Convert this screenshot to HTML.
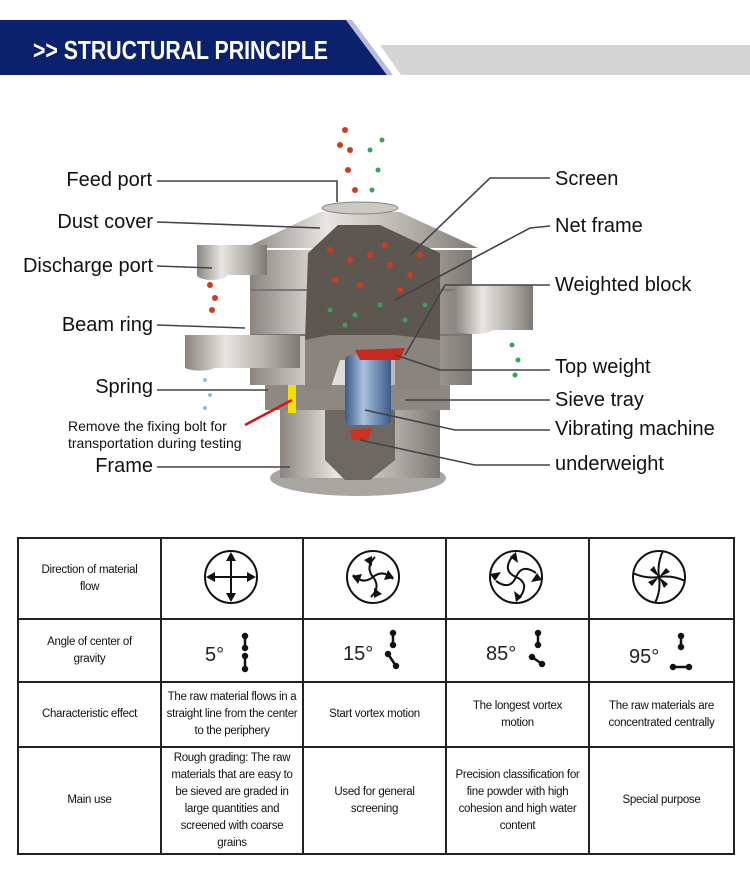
<!DOCTYPE html>
<html><head><meta charset="utf-8"><style>
body{margin:0;width:750px;height:876px;background:#fff;position:relative;overflow:hidden;font-family:"Liberation Sans",sans-serif}
.l{position:absolute;font-size:20px;color:#111;white-space:nowrap;line-height:20px}
table{position:absolute;left:17px;top:537px;width:716px;border-collapse:collapse;table-layout:fixed;font-size:11.5px;color:#111;letter-spacing:-0.3px}
td{border:2px solid #222;text-align:center;vertical-align:middle;padding:0 2px;line-height:17px}
td.h{padding:0 14px}
</style></head><body>
<svg width="750" height="876" style="position:absolute;left:0;top:0">
<polygon points="0,20 346,20 387,75 0,75" fill="#0b216e"/>
<polygon points="346,20 352,20 393,75 387,75" fill="#b8bcd4"/>
<polygon points="380,45 750,45 750,75 401,75" fill="#d4d4d4"/>
<text x="33" y="59" fill="#fff" font-family="Liberation Sans" font-weight="bold" font-size="26" textLength="295" lengthAdjust="spacingAndGlyphs">&gt;&gt; STRUCTURAL PRINCIPLE</text>
<defs><linearGradient id="m" x1="0" x2="1"><stop offset="0" stop-color="#8a8580"/><stop offset=".35" stop-color="#e8e6e2"/><stop offset=".7" stop-color="#b5b1ac"/><stop offset="1" stop-color="#7d7873"/></linearGradient>
<linearGradient id="b" x1="0" x2="1"><stop offset="0" stop-color="#3a5a8a"/><stop offset=".4" stop-color="#a9c0de"/><stop offset="1" stop-color="#3c5b88"/></linearGradient></defs>
<ellipse cx="358" cy="478" rx="88" ry="18" fill="#a9a5a0"/>
<rect x="280" y="395" width="160" height="83" fill="url(#m)"/>
<polygon points="325,410 395,410 395,460 370,480 345,480 325,460" fill="#6e6862"/>
<rect x="265" y="385" width="185" height="25" fill="#8d8882"/>
<rect x="288" y="383" width="8" height="30" fill="#f0e000"/>
<rect x="250" y="250" width="222" height="135" fill="url(#m)"/>
<line x1="250" y1="290" x2="472" y2="290" stroke="#777" stroke-width="2"/>
<line x1="250" y1="335" x2="472" y2="335" stroke="#777" stroke-width="2"/>
<polygon points="245,248 320,212 400,212 478,248" fill="url(#m)"/>
<ellipse cx="360" cy="208" rx="38" ry="6" fill="#ccc8c3" stroke="#8a8580"/>
<polygon points="308,253 338,225 380,225 440,253 440,340 305,340" fill="#5e5650"/>
<polygon points="305,340 330,335 395,335 440,340 440,390 395,390 395,360 340,360 330,390 305,390" fill="#8a847e"/>
<rect x="345" y="355" width="46" height="70" rx="6" fill="url(#b)"/>
<polygon points="355,350 405,348 400,360 360,360" fill="#c8281e"/>
<polygon points="350,430 372,428 368,440 352,440" fill="#d03020"/>
<path d="M197,245 h70 v30 h-40 a15,5 0 0 1 -30,0 z" fill="url(#m)"/>
<path d="M185,335 h115 v33 h-85 a18,6 0 0 1 -30,0 z" fill="url(#m)"/>
<path d="M455,285 h78 v45 h-40 a20,6 0 0 1 -38,0 z" fill="url(#m)"/>
<g fill="#d23a20">
<circle cx="345" cy="130" r="3"/><circle cx="350" cy="150" r="3"/><circle cx="348" cy="170" r="3"/><circle cx="355" cy="190" r="3"/><circle cx="340" cy="145" r="3"/>
<circle cx="330" cy="250" r="3"/><circle cx="350" cy="260" r="3"/><circle cx="370" cy="255" r="3"/><circle cx="390" cy="265" r="3"/><circle cx="410" cy="275" r="3"/><circle cx="335" cy="280" r="3"/><circle cx="360" cy="285" r="3"/><circle cx="385" cy="245" r="3"/><circle cx="420" cy="255" r="3"/><circle cx="400" cy="290" r="3"/>
<circle cx="210" cy="285" r="3"/><circle cx="215" cy="298" r="3"/><circle cx="212" cy="310" r="3"/>
</g>
<g fill="#3aa060">
<circle cx="370" cy="150" r="2.5"/><circle cx="378" cy="170" r="2.5"/><circle cx="372" cy="190" r="2.5"/><circle cx="382" cy="140" r="2.5"/>
<circle cx="330" cy="310" r="2.5"/><circle cx="355" cy="315" r="2.5"/><circle cx="380" cy="305" r="2.5"/><circle cx="405" cy="320" r="2.5"/><circle cx="425" cy="305" r="2.5"/><circle cx="345" cy="325" r="2.5"/>
<circle cx="512" cy="345" r="2.5"/><circle cx="518" cy="360" r="2.5"/><circle cx="515" cy="375" r="2.5"/>
</g>
<g fill="#8bbde0"><circle cx="205" cy="380" r="2"/><circle cx="210" cy="395" r="2"/><circle cx="205" cy="408" r="2"/></g>
<g stroke="#444" stroke-width="1.6" fill="none">
<polyline points="157,181 337,181 337,202"/>
<line x1="157" y1="222" x2="320" y2="228"/>
<line x1="157" y1="266" x2="212" y2="268"/>
<line x1="157" y1="325" x2="245" y2="328"/>
<line x1="157" y1="390" x2="268" y2="390"/>
<line x1="157" y1="467" x2="290" y2="467"/>
<polyline points="550,178 490,178 410,255"/>
<polyline points="550,226 530,228 395,300"/>
<polyline points="550,285 445,285 405,355"/>
<polyline points="550,370 440,370 395,355"/>
<line x1="550" y1="400" x2="405" y2="400"/>
<polyline points="550,430 455,430 365,410"/>
<polyline points="550,465 475,465 360,440"/>
</g>
<line x1="245" y1="425" x2="292" y2="400" stroke="#e01010" stroke-width="2.5"/>
<g stroke="#111" stroke-width="2" fill="none">
<circle cx="231" cy="577" r="26"/><circle cx="373" cy="577" r="26"/><circle cx="516" cy="577" r="26"/><circle cx="659" cy="577" r="26"/>
<line x1="231" y1="557" x2="231" y2="597"/><line x1="211" y1="577" x2="251" y2="577"/>
<path d="M373,577 q-8,-10 2,-20 M373,577 q10,-8 20,2 M373,577 q8,10 -2,20 M373,577 q-10,8 -20,-2"/>
<path d="M516,577 q-14,-6 -4,-20 M516,577 q6,-14 20,-4 M516,577 q14,6 4,20 M516,577 q-6,14 -20,4"/>
<path d="M659,577 q-2,-14 4,-26 M659,577 q14,-2 26,4 M659,577 q2,14 -4,26 M659,577 q-14,2 -26,-4"/>
</g>
<g fill="#111">
<polygon points="231,552 226,561 236,561"/><polygon points="231,602 226,593 236,593"/><polygon points="206,577 215,572 215,582"/><polygon points="256,577 247,572 247,582"/>
<polygon points="372,556 364,560 372,566"/><polygon points="394,578 388,570 384,580"/><polygon points="374,598 382,594 374,588"/><polygon points="352,576 358,584 362,574"/>
<polygon points="510,557 516,552 518,563"/><polygon points="537,573 542,580 531,582"/><polygon points="522,597 516,602 514,591"/><polygon points="495,581 490,574 501,572"/>
<polygon points="659,577 650,570 654,566"/><polygon points="659,577 666,568 670,572"/><polygon points="659,577 668,584 664,588"/><polygon points="659,577 652,586 648,582"/>
</g>
<g font-family="Liberation Sans" font-size="20" fill="#222"><text x="205" y="661">5°</text><text x="343" y="660">15°</text><text x="486" y="660">85°</text><text x="629" y="663">95°</text></g>
<g stroke="#111" stroke-width="2.5" fill="#111">
<line x1="245" y1="636" x2="245" y2="648"/><circle cx="245" cy="636" r="2"/><circle cx="245" cy="648" r="2"/>
<line x1="245" y1="656" x2="245" y2="669"/><circle cx="245" cy="656" r="2"/><circle cx="245" cy="669" r="2"/>
<line x1="393" y1="633" x2="393" y2="645"/><circle cx="393" cy="633" r="2"/><circle cx="393" cy="645" r="2"/>
<line x1="388" y1="654" x2="396" y2="666"/><circle cx="388" cy="654" r="2"/><circle cx="396" cy="666" r="2"/>
<line x1="538" y1="633" x2="538" y2="645"/><circle cx="538" cy="633" r="2"/><circle cx="538" cy="645" r="2"/>
<line x1="532" y1="657" x2="542" y2="664"/><circle cx="532" cy="657" r="2"/><circle cx="542" cy="664" r="2"/>
<line x1="681" y1="636" x2="681" y2="647"/><circle cx="681" cy="636" r="2"/><circle cx="681" cy="647" r="2"/>
<line x1="673" y1="667" x2="689" y2="667"/><circle cx="673" cy="667" r="2"/><circle cx="689" cy="667" r="2"/>
</g>
</svg>
<div class="l" style="right:598px;top:170px">Feed port</div>
<div class="l" style="right:597px;top:212px">Dust cover</div>
<div class="l" style="right:597px;top:256px">Discharge port</div>
<div class="l" style="right:597px;top:315px">Beam ring</div>
<div class="l" style="right:597px;top:377px">Spring</div>
<div class="l" style="left:68px;top:418px;font-size:14px;line-height:17px">Remove the fixing bolt for<br>transportation during testing</div>
<div class="l" style="right:597px;top:456px">Frame</div>
<div class="l" style="left:555px;top:169px">Screen</div>
<div class="l" style="left:555px;top:216px">Net frame</div>
<div class="l" style="left:555px;top:275px">Weighted block</div>
<div class="l" style="left:555px;top:357px">Top weight</div>
<div class="l" style="left:555px;top:390px">Sieve tray</div>
<div class="l" style="left:555px;top:419px">Vibrating machine</div>
<div class="l" style="left:555px;top:454px">underweight</div>
<table>
<colgroup><col style="width:143px"><col style="width:142px"><col style="width:143px"><col style="width:143px"><col style="width:145px"></colgroup>
<tr style="height:81px"><td class="h">Direction of material flow</td><td></td><td></td><td></td><td></td></tr>
<tr style="height:63px"><td class="h">Angle of center of gravity</td><td></td><td></td><td></td><td></td></tr>
<tr style="height:65px"><td>Characteristic effect</td><td>The raw material flows in a straight line from the center to the periphery</td><td>Start vortex motion</td><td style="padding:0 20px">The longest vortex motion</td><td>The raw materials are concentrated centrally</td></tr>
<tr style="height:107px"><td>Main use</td><td style="padding:0 4px">Rough grading: The raw materials that are easy to be sieved are graded in large quantities and screened with coarse grains</td><td style="padding:0 20px">Used for general screening</td><td>Precision classification for fine powder with high cohesion and high water content</td><td>Special purpose</td></tr>
</table>
</body></html>
